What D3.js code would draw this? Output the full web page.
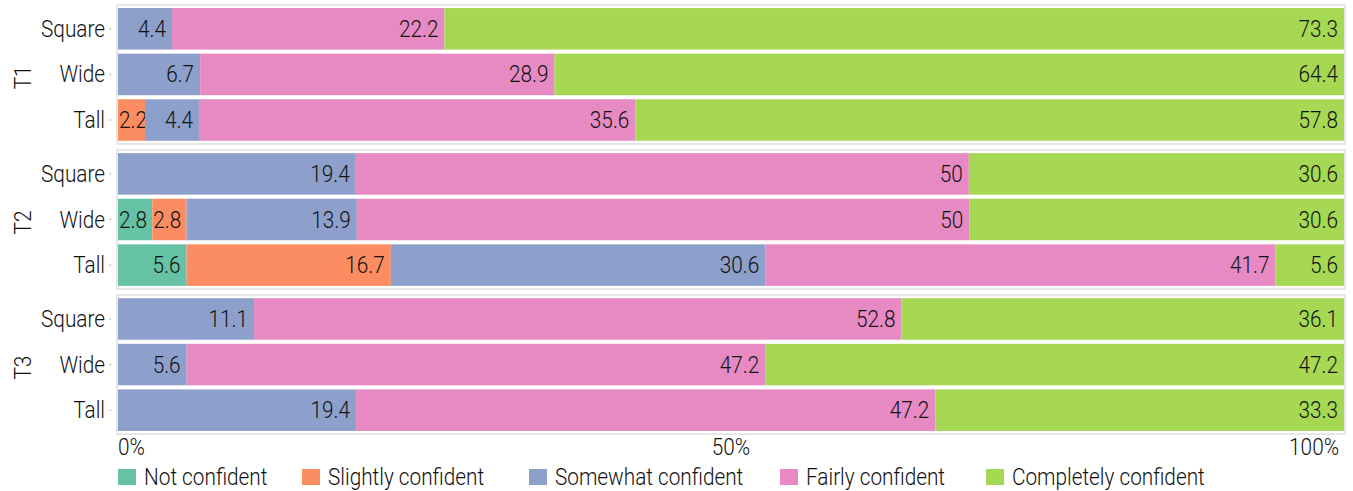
<!DOCTYPE html>
<html><head><meta charset="utf-8">
<script src="https://cdn.jsdelivr.net/npm/d3@7"></script>
<style>
html,body{margin:0;padding:0;background:#fff;}
svg text{font-family:Roboto,"Noto Sans",sans-serif;font-weight:300;fill:#111;}
</style></head>
<body><svg id="c" width="1353" height="491"></svg>
<script>
const categories = ["Not confident","Slightly confident","Somewhat confident","Fairly confident","Completely confident"];
const colors = ["#66c2a5","#fc8d62","#8da0cb","#e78ac3","#a6d854"];
const tasks = ["T1","T2","T3"];
const shapes = ["Square","Wide","Tall"];
// rows: T1 Square, Wide, Tall, T2 Square, Wide, Tall, T3 Square, Wide, Tall
const notConfident = [0,0,0, 0,2.8,5.6, 0,0,0];
const slightlyConfident = [0,0,2.2, 0,2.8,16.7, 0,0,0];
const somewhatConfident = [4.4,6.7,4.4, 19.4,13.9,30.6, 11.1,5.6,19.4];
const fairlyConfident = [22.2,28.9,35.6, 50,50,41.7, 52.8,47.2,47.2];
const completelyConfident = [73.3,64.4,57.8, 30.6,30.6,5.6, 36.1,47.2,33.3];
const tickValues = [0,0.5,1];
const tickLabels = ["0%","50%","100%"];

const series = [notConfident,slightlyConfident,somewhatConfident,fairlyConfident,completelyConfident];
const rows = [];
tasks.forEach((t,ti)=>shapes.forEach((s,si)=>{
  const i = ti*3+si; const r = {task:t, shape:s};
  categories.forEach((c,ci)=>r[c]=series[ci][i]);
  rows.push(r);
}));

const svg = d3.select("#c");
const FS = 24, K = 0.865;
function condense(sel){ sel.each(function(){ const L=this.getComputedTextLength(); this.setAttribute("textLength", L*K); this.setAttribute("lengthAdjust","spacingAndGlyphs"); }); }

const x = d3.scaleLinear().domain([0,1]).range([118,1344]);
const panel = d3.scaleBand().domain(tasks).range([5,434]).paddingInner(0.043);
const color = d3.scaleOrdinal().domain(categories).range(colors);
const stack = d3.stack().keys(categories).offset(d3.stackOffsetExpand);

tasks.forEach(t=>{
  const py = panel(t), ph = panel.bandwidth();
  const g = svg.append("g");
  g.append("rect").attr("x",x(0)-1).attr("y",py).attr("width",x(1)-x(0)+2).attr("height",ph)
   .attr("fill","#fff").attr("stroke","#e6e6e6").attr("stroke-width",2);
  const y = d3.scaleBand().domain(shapes).range([py+1,py+ph-1]).paddingInner(0.09).paddingOuter(0.045);
  const data = rows.filter(r=>r.task===t);
  const st = stack(data);
  st.forEach(layer=>{
    layer.forEach(seg=>{
      const v = seg.data[layer.key];
      if(!v) return;
      g.append("rect").attr("x",x(seg[0])).attr("y",y(seg.data.shape))
        .attr("width",x(seg[1])-x(seg[0])).attr("height",y.bandwidth()).attr("fill",color(layer.key));
      const tx = g.append("text").attr("x",x(seg[1])-6).attr("y",y(seg.data.shape)+y.bandwidth()/2)
        .attr("text-anchor","end").attr("dominant-baseline","central").style("font-size",FS+"px")
        .text(String(v)).call(condense);
      const w = +tx.attr("textLength");
      if (x(seg[1])-6-w < x(seg[0])+1) tx.attr("x", x(seg[0])+1+w);
    });
  });
  // y axis labels
  shapes.forEach(s=>{
    const cy = y(s)+y.bandwidth()/2;
    g.append("line").attr("x1",109).attr("x2",111.5).attr("y1",cy).attr("y2",cy).attr("stroke","#bbb").attr("stroke-width",1);
    g.append("text").attr("x",105).attr("y",cy).attr("text-anchor","end").attr("dominant-baseline","central")
      .style("font-size",FS+"px").text(s).call(condense);
  });
  g.append("text").attr("transform",`translate(23,${py+ph/2+3}) rotate(-90)`).attr("text-anchor","middle")
    .attr("dominant-baseline","central").style("font-size",FS+"px").text(t).call(condense);
});

// x axis labels
tickValues.forEach((v,i)=>{
  svg.append("text").attr("x",x(v)+(i===0?0:i===tickValues.length-1?-5:0)).attr("y",447)
    .attr("text-anchor", i===0?"start":i===tickValues.length-1?"end":"middle")
    .attr("dominant-baseline","central").style("font-size",FS+"px").text(tickLabels[i]).call(condense);
});

// legend
const legendX = [118,302,529,780,986];
categories.forEach((c,i)=>{
  const lg = svg.append("g").attr("transform",`translate(${legendX[i]},0)`);
  lg.append("rect").attr("x",0).attr("y",469).attr("width",18).attr("height",16).attr("fill",color(c));
  lg.append("text").attr("x",26).attr("y",477).attr("dominant-baseline","central").style("font-size",FS+"px").text(c).call(condense);
});
</script></body></html>
